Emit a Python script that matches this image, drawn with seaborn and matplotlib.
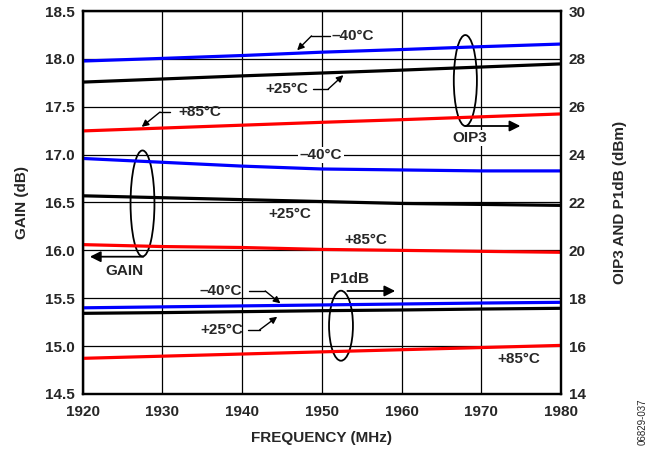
import numpy as np
import pandas as pd
import matplotlib
matplotlib.use("Agg")
import matplotlib.pyplot as plt
from matplotlib.patches import Ellipse
import seaborn as sns

# Frequency points (MHz)
freq = [1920, 1930, 1940, 1950, 1960, 1970, 1980]

# Gain (dB), left axis
gain_m40 = [16.96, 16.92, 16.88, 16.85, 16.84, 16.83, 16.83]
gain_p25 = [16.57, 16.55, 16.53, 16.51, 16.49, 16.48, 16.47]
gain_p85 = [16.06, 16.04, 16.03, 16.01, 16.00, 15.99, 15.98]

# OIP3 (dBm), right axis
oip3_m40 = [27.91, 28.02, 28.14, 28.28, 28.39, 28.51, 28.62]
oip3_p25 = [27.03, 27.16, 27.29, 27.41, 27.53, 27.66, 27.79]
oip3_p85 = [24.99, 25.11, 25.23, 25.35, 25.46, 25.58, 25.70]

# P1dB (dBm), right axis
p1db_m40 = [17.60, 17.64, 17.68, 17.72, 17.76, 17.80, 17.83]
p1db_p25 = [17.37, 17.40, 17.44, 17.48, 17.51, 17.55, 17.58]
p1db_p85 = [15.49, 15.58, 15.67, 15.76, 15.85, 15.94, 16.03]

x_ticks = [1920, 1930, 1940, 1950, 1960, 1970, 1980]
gain_ticks = [14.5, 15.0, 15.5, 16.0, 16.5, 17.0, 17.5, 18.0, 18.5]
dbm_ticks = [14, 16, 18, 20, 22, 24, 26, 28, 30]

BLUE, BLACK, RED = "#0000ff", "#000000", "#ff0000"

sns.set_theme(style="white")
plt.rcParams["font.family"] = ["Liberation Sans", "DejaVu Sans"]
plt.rcParams["font.weight"] = "bold"

fig = plt.figure(figsize=(6.58, 4.51), dpi=100)
ax = fig.add_axes([0.1257, 0.1264, 0.7269, 0.8492])
ax2 = ax.twinx()

lw = 2.3
for vals, c in [(gain_m40, BLUE), (gain_p25, BLACK), (gain_p85, RED)]:
    sns.lineplot(x=freq, y=vals, color=c, lw=lw, ax=ax)
for vals, c in [(oip3_m40, BLUE), (oip3_p25, BLACK), (oip3_p85, RED),
                (p1db_m40, BLUE), (p1db_p25, BLACK), (p1db_p85, RED)]:
    sns.lineplot(x=freq, y=vals, color=c, lw=lw, ax=ax2)

fs = 11

ax.set_xlim(1920, 1980)
ax.set_ylim(14.5, 18.5)
ax2.set_ylim(14, 30)
ax.set_xticks(x_ticks)
ax.set_yticks(gain_ticks)
ax.set_yticklabels([f"{t:.1f}" for t in gain_ticks])
ax2.set_yticks(dbm_ticks)
ax.grid(True, color="black", lw=0.9)
ax2.grid(False)
for a in (ax, ax2):
    a.tick_params(length=0, labelsize=fs, pad=5.5)
    for s in a.spines.values():
        s.set_color("black")
        s.set_linewidth(1.6)
ax.tick_params(axis="x", pad=8)

ax.set_xlabel("FREQUENCY (MHz)", fontsize=fs, fontweight="bold")
ax.set_ylabel("GAIN (dB)", fontsize=fs, fontweight="bold")
ax2.set_ylabel("OIP3 AND P1dB (dBm)", fontsize=fs, fontweight="bold")
ax.xaxis.set_label_coords(0.5, -0.096)
ax.yaxis.set_label_coords(-0.112, 0.5)
ax2.yaxis.set_label_coords(1.109, 0.5)


def leader(text, txy, ha, bend_start, bend, tip):
    ax.text(txy[0], txy[1], text, ha=ha, va="center", fontsize=fs, fontweight="bold")
    ax.plot([bend_start[0], bend[0]], [bend_start[1], bend[1]], color="black", lw=1)
    ax.annotate("", xy=tip, xytext=bend,
                arrowprops=dict(arrowstyle="-|>", color="black", lw=1,
                                mutation_scale=10, shrinkA=0, shrinkB=0))


# OIP3 group labels
leader("\u201340\u00b0C", (1951.2, 18.24), "left", (1951.0, 18.24), (1948.7, 18.24), (1946.9, 18.09))
leader("+25\u00b0C", (1948.3, 17.685), "right", (1948.9, 17.685), (1950.8, 17.685), (1952.7, 17.83))
leader("+85\u00b0C", (1932.0, 17.445), "left", (1931.0, 17.445), (1929.7, 17.445), (1927.4, 17.29))

# Gain group labels
ax.text(1949.9, 16.996, "\u201340\u00b0C", ha="center", va="center", fontsize=fs,
        fontweight="bold", bbox=dict(facecolor="white", edgecolor="none", pad=1))
ax.text(1946.0, 16.38, "+25\u00b0C", ha="center", va="center", fontsize=fs, fontweight="bold")
ax.text(1955.5, 16.11, "+85\u00b0C", ha="center", va="center", fontsize=fs, fontweight="bold")

# P1dB group labels
leader("\u201340\u00b0C", (1940.0, 15.576), "right", (1940.9, 15.576), (1942.9, 15.576), (1944.8, 15.447))
leader("+25\u00b0C", (1940.1, 15.17), "right", (1940.7, 15.17), (1942.2, 15.17), (1944.4, 15.307))
ax.text(1974.7, 14.866, "+85\u00b0C", ha="center", va="center", fontsize=fs, fontweight="bold")

# Group ellipses with arrows pointing to their axis
big_arrow = dict(arrowstyle="-|>", color="black", lw=1.3, mutation_scale=16,
                 shrinkA=0, shrinkB=0)

ax.add_patch(Ellipse((1968.0, 17.774), 2.9, 0.95, fill=False, ec="black", lw=1.3))
ax.annotate("", xy=(1974.9, 17.299), xytext=(1968.0, 17.299), arrowprops=big_arrow)
ax.text(1968.5, 17.174, "OIP3", ha="center", va="center", fontsize=fs, fontweight="bold",
        bbox=dict(facecolor="white", edgecolor="none", pad=0.5))

ax.add_patch(Ellipse((1927.5, 16.49), 3.0, 1.107, fill=False, ec="black", lw=1.3))
ax.annotate("", xy=(1920.9, 15.934), xytext=(1927.6, 15.934), arrowprops=big_arrow)
ax.text(1925.2, 15.785, "GAIN", ha="center", va="center", fontsize=fs, fontweight="bold")

ax.add_patch(Ellipse((1952.4, 15.213), 3.0, 0.731, fill=False, ec="black", lw=1.3))
ax.annotate("", xy=(1959.2, 15.576), xytext=(1953.2, 15.576), arrowprops=big_arrow)
ax.text(1953.5, 15.70, "P1dB", ha="center", va="center", fontsize=fs, fontweight="bold")

fig.text(643 / 658, 1 - 422 / 451, "06829-037", rotation=90, ha="center", va="center",
         fontsize=7, fontweight="normal")

fig.savefig("out.png", dpi=100)
